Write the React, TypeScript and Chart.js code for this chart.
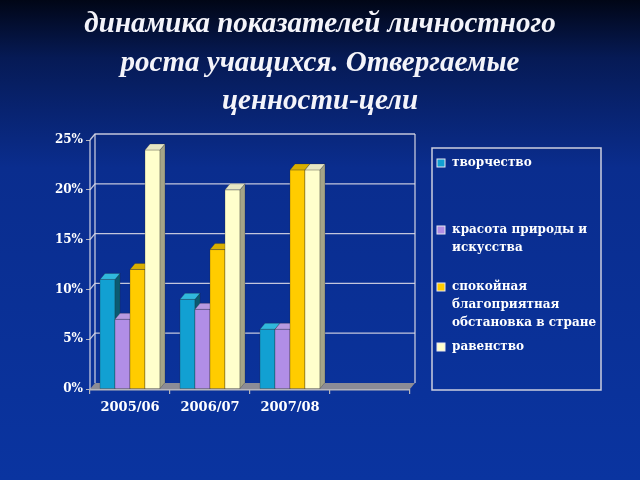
import React, { useEffect, useRef } from "react";
import { Chart, registerables } from "chart.js";

Chart.register(...registerables);

const titleLines = [
  "динамика показателей личностного",
  "роста учащихся. Отвергаемые",
  "ценности-цели",
];
const categories = ["2005/06", "2006/07", "2007/08", ""];
const seriesLegendLines = [
  ["творчество"],
  ["красота природы и", "искусства"],
  ["спокойная", "благоприятная", "обстановка в стране"],
  ["равенство"],
];
const tvorchestvo = [11, 9, 6, null];
const krasota = [7, 8, 6, null];
const spokoynaya = [12, 14, 22, null];
const ravenstvo = [24, 20, 22, null];
const seriesValues = [tvorchestvo, krasota, spokoynaya, ravenstvo];
const yTickMax = 25;
const yTickStep = 5;

const frontColors = ["#12a0d2", "#b18ee6", "#ffcc00", "#ffffcc"];
const sideColors = ["#0a5a72", "#7a5fa8", "#a88400", "#a4a488"];
const topColors = ["#30b8dc", "#b89ae0", "#d8ae00", "#e6e6c4"];

const DX = 5;
const DY = -6;
const SERIF = "'Liberation Serif', 'DejaVu Serif', serif";
const WIDE_SERIF = "'DejaVu Serif', 'Liberation Serif', serif";

function poly(ctx: CanvasRenderingContext2D, pts: number[][], fill: string, stroke?: string) {
  ctx.beginPath();
  ctx.moveTo(pts[0][0], pts[0][1]);
  for (let i = 1; i < pts.length; i++) ctx.lineTo(pts[i][0], pts[i][1]);
  ctx.closePath();
  ctx.fillStyle = fill;
  ctx.fill();
  if (stroke) {
    ctx.strokeStyle = stroke;
    ctx.lineWidth = 0.6;
    ctx.stroke();
  }
}

const backgroundPlugin = {
  id: "bg",
  beforeDraw(chart: any) {
    const ctx = chart.ctx as CanvasRenderingContext2D;
    const g = ctx.createLinearGradient(0, 0, 0, chart.height);
    g.addColorStop(0, "#010616");
    g.addColorStop(0.12, "#061a55");
    g.addColorStop(0.35, "#0a2d8e");
    g.addColorStop(1, "#0a34a0");
    ctx.save();
    ctx.fillStyle = g;
    ctx.fillRect(0, 0, chart.width, chart.height);
    ctx.restore();
  },
};

const titlePlugin = {
  id: "customTitle",
  afterDraw(chart: any) {
    const ctx = chart.ctx as CanvasRenderingContext2D;
    ctx.save();
    ctx.fillStyle = "#f4f4fa";
    ctx.font = `italic bold 29px ${SERIF}`;
    ctx.textAlign = "center";
    ctx.textBaseline = "alphabetic";
    const ys = [32, 71, 109];
    titleLines.forEach((t, i) => ctx.fillText(t, 320, ys[i]));
    ctx.restore();
  },
};

const wallPlugin = {
  id: "walls",
  beforeDatasetsDraw(chart: any) {
    const ctx = chart.ctx as CanvasRenderingContext2D;
    const y = chart.scales.y;
    const { left, right, top, bottom } = chart.chartArea;
    ctx.save();
    poly(
      ctx,
      [
        [left, bottom],
        [left + DX, bottom + DY],
        [right + DX, bottom + DY],
        [right, bottom],
      ],
      "#8c8c96"
    );
    ctx.fillStyle = "#b4b4bc";
    ctx.fillRect(left, bottom, right - left, 1.5);
    ctx.strokeStyle = "rgba(215,215,228,0.9)";
    ctx.lineWidth = 1.3;
    for (let v = yTickStep; v <= yTickMax; v += yTickStep) {
      const py = y.getPixelForValue(v);
      ctx.beginPath();
      ctx.moveTo(left, py);
      ctx.lineTo(left + DX, py + DY);
      ctx.lineTo(right + DX, py + DY);
      ctx.stroke();
    }
    ctx.beginPath();
    ctx.moveTo(left, bottom);
    ctx.lineTo(left, top);
    ctx.moveTo(left + DX, bottom + DY);
    ctx.lineTo(left + DX, top + DY);
    ctx.moveTo(right + DX, bottom + DY);
    ctx.lineTo(right + DX, top + DY);
    ctx.stroke();
    ctx.restore();
  },
  afterDatasetsDraw(chart: any) {
    const ctx = chart.ctx as CanvasRenderingContext2D;
    ctx.save();
    const metas = seriesValues.map((_, i) => chart.getDatasetMeta(i));
    categories.forEach((_, k) => {
      metas.forEach((meta: any, i: number) => {
        const v = seriesValues[i][k];
        if (v == null) return;
        const el = meta.data[k];
        const p = el.getProps(["x", "y", "base", "width"], true);
        const l = p.x - p.width / 2;
        const r = p.x + p.width / 2;
        const edge = "rgba(40,40,40,0.45)";
        poly(ctx, [[l, p.y], [r, p.y], [r, p.base], [l, p.base]], frontColors[i], edge);
        poly(
          ctx,
          [
            [r, p.y],
            [r + DX, p.y + DY],
            [r + DX, p.base + DY],
            [r, p.base],
          ],
          sideColors[i],
          edge
        );
        poly(
          ctx,
          [
            [l, p.y],
            [l + DX, p.y + DY],
            [r + DX, p.y + DY],
            [r, p.y],
          ],
          topColors[i],
          edge
        );
      });
    });
    ctx.restore();
  },
};

const legendPlugin = {
  id: "customLegend",
  afterDraw(chart: any) {
    const ctx = chart.ctx as CanvasRenderingContext2D;
    ctx.save();
    ctx.strokeStyle = "rgba(215,215,228,0.95)";
    ctx.lineWidth = 1.5;
    ctx.strokeRect(432, 148, 169, 242);
    ctx.font = `bold 12px ${WIDE_SERIF}`;
    ctx.textBaseline = "middle";
    ctx.textAlign = "left";
    const starts = [163, 230, 287, 347];
    chart.data.datasets.forEach((ds: any, i: number) => {
      const y0 = starts[i];
      ctx.fillStyle = frontColors[i];
      ctx.fillRect(437, y0 - 4, 8, 8);
      ctx.strokeStyle = "#e8e8f0";
      ctx.lineWidth = 1;
      ctx.strokeRect(437, y0 - 4, 8, 8);
      ctx.fillStyle = "#ffffff";
      seriesLegendLines[i].forEach((line, j) => ctx.fillText(line, 452, y0 + j * 18));
    });
    ctx.restore();
  },
};

export default function App() {
  const ref = useRef<HTMLCanvasElement | null>(null);
  useEffect(() => {
    document.body.style.margin = "0";
    if (!ref.current) return;
    const chart = new Chart(ref.current, {
      type: "bar",
      data: {
        labels: categories,
        datasets: seriesValues.map((vals, i) => ({
          label: seriesLegendLines[i].join(" "),
          data: vals,
          backgroundColor: "rgba(0,0,0,0)",
          borderWidth: 0,
        })),
      },
      options: {
        responsive: false,
        animation: false,
        devicePixelRatio: 1,
        layout: { padding: { top: 140, left: 40, right: 230, bottom: 61 } },
        datasets: { bar: { barPercentage: 1, categoryPercentage: 0.75 } },
        plugins: {
          legend: { display: false },
          title: { display: false },
          tooltip: { enabled: false },
        },
        scales: {
          x: {
            afterFit: (s: any) => {
              s.height = 30;
            },
            border: { display: false },
            grid: {
              display: true,
              offset: true,
              drawOnChartArea: false,
              drawTicks: true,
              tickLength: 5,
              color: "#b4b4bc",
              lineWidth: 1.2,
            },
            ticks: {
              color: "#ffffff",
              padding: 6,
              font: { family: WIDE_SERIF, size: 13, weight: "bold" },
            },
          },
          y: {
            min: 0,
            max: yTickMax,
            afterFit: (s: any) => {
              s.width = 50;
            },
            border: { display: false },
            grid: {
              display: true,
              drawOnChartArea: false,
              drawTicks: true,
              tickLength: 4,
              color: "#b4b4bc",
            },
            ticks: {
              stepSize: yTickStep,
              color: "#ffffff",
              padding: 3,
              font: { family: WIDE_SERIF, size: 12, weight: "bold" },
              callback: (v: any) => `${v}%`,
            },
          },
        },
      },
      plugins: [backgroundPlugin, wallPlugin, legendPlugin, titlePlugin],
    });
    return () => chart.destroy();
  }, []);
  return <canvas ref={ref} width={640} height={480} style={{ display: "block" }} />;
}
